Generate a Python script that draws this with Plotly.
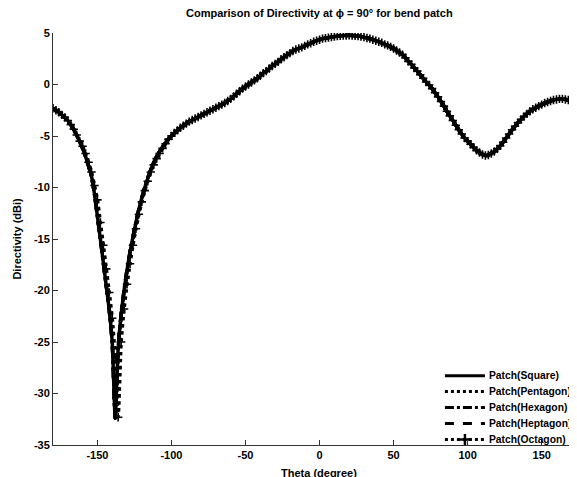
import plotly.graph_objects as go

theta = list(range(-180, 181, 2))

patch_square = [
    -2.3, -2.5, -2.7, -2.95, -3.2, -3.5, -3.9, -4.35, -4.9, -5.5,          # -180..-162
    -6.2, -7.0, -7.9, -8.9, -10.6, -12.8, -15.0, -17.3, -19.6, -21.9,      # -160..-142
    -25.0, -32.4, -25.6, -22.4, -20.0, -18.0, -16.3, -14.8, -13.4, -12.1,  # -140..-122
    -11.0, -10.0, -9.1, -8.3, -7.6, -7.0, -6.5, -6.05, -5.65, -5.3,        # -120..-102
    -5.0, -4.7, -4.45, -4.2, -4.0, -3.8, -3.6, -3.45, -3.3, -3.15,         # -100..-82
    -3.0, -2.85, -2.7, -2.55, -2.4, -2.25, -2.1, -1.95, -1.8, -1.6,        # -80..-62
    -1.4, -1.15, -0.9, -0.65, -0.4, -0.2, 0.0, 0.2, 0.4, 0.6,              # -60..-42
    0.85, 1.1, 1.3, 1.55, 1.8, 2.0, 2.2, 2.45, 2.65, 2.85,                 # -40..-22
    3.05, 3.25, 3.4, 3.5, 3.6, 3.75, 3.9, 4.0, 4.15, 4.25,                 # -20..-2
    4.35, 4.45, 4.5, 4.55, 4.6, 4.65, 4.7, 4.72, 4.75, 4.76,               # 0..18
    4.77, 4.76, 4.74, 4.7, 4.65, 4.6, 4.52, 4.45, 4.35, 4.25,              # 20..38
    4.15, 4.05, 3.9, 3.8, 3.65, 3.5, 3.3, 3.1, 2.9, 2.6,                   # 40..58
    2.25, 1.95, 1.6, 1.3, 0.95, 0.6, 0.25, -0.05, -0.4, -0.8,              # 60..78
    -1.2, -1.65, -2.1, -2.6, -3.05, -3.5, -3.95, -4.4, -4.8, -5.2,         # 80..98
    -5.5, -5.8, -6.1, -6.4, -6.6, -6.8, -6.9, -6.85, -6.7, -6.5,           # 100..118
    -6.25, -5.95, -5.6, -5.2, -4.8, -4.4, -4.05, -3.7, -3.4, -3.1,         # 120..138
    -2.85, -2.6, -2.4, -2.25, -2.1, -1.95, -1.8, -1.7, -1.6, -1.5,         # 140..158
    -1.45, -1.4, -1.4, -1.45, -1.5, -1.55, -1.65, -1.75, -1.9, -2.1,       # 160..178
    -2.3,                                                                  # 180
]

patch_pentagon = list(patch_square)
patch_hexagon = list(patch_square)
patch_heptagon = list(patch_square)

patch_octagon = [
    -2.3, -2.5, -2.7, -2.95, -3.2, -3.5, -3.9, -4.35, -4.9, -5.5,          # -180..-162
    -6.0, -6.7, -7.55, -8.5, -9.8, -11.2, -13.4, -15.6, -17.9, -20.2,      # -160..-142
    -22.7, -26.5, -32.3, -25.0, -21.8, -19.4, -17.4, -15.6, -14.0, -12.6,  # -140..-122
    -11.4, -10.3, -9.4, -8.5, -7.8, -7.2, -6.7, -6.2, -5.75, -5.3,         # -120..-102
    -5.0, -4.7, -4.45, -4.2, -4.0, -3.8, -3.6, -3.45, -3.3, -3.15,         # -100..-82
    -3.0, -2.85, -2.7, -2.55, -2.4, -2.25, -2.1, -1.95, -1.8, -1.6,        # -80..-62
    -1.4, -1.15, -0.9, -0.65, -0.4, -0.2, 0.0, 0.2, 0.4, 0.6,              # -60..-42
    0.85, 1.1, 1.3, 1.55, 1.8, 2.0, 2.2, 2.45, 2.65, 2.85,                 # -40..-22
    3.05, 3.25, 3.4, 3.5, 3.6, 3.75, 3.9, 4.0, 4.15, 4.25,                 # -20..-2
    4.35, 4.45, 4.5, 4.55, 4.6, 4.65, 4.7, 4.72, 4.75, 4.76,               # 0..18
    4.77, 4.76, 4.74, 4.7, 4.65, 4.6, 4.52, 4.45, 4.35, 4.25,              # 20..38
    4.15, 4.05, 3.9, 3.8, 3.65, 3.5, 3.3, 3.1, 2.9, 2.6,                   # 40..58
    2.25, 1.95, 1.6, 1.3, 0.95, 0.6, 0.25, -0.05, -0.4, -0.8,              # 60..78
    -1.2, -1.65, -2.1, -2.6, -3.05, -3.5, -3.95, -4.4, -4.8, -5.2,         # 80..98
    -5.5, -5.8, -6.1, -6.4, -6.6, -6.8, -6.9, -6.85, -6.7, -6.5,           # 100..118
    -6.25, -5.95, -5.6, -5.2, -4.8, -4.4, -4.05, -3.7, -3.4, -3.1,         # 120..138
    -2.85, -2.6, -2.4, -2.25, -2.1, -1.95, -1.8, -1.7, -1.6, -1.5,         # 140..158
    -1.45, -1.4, -1.4, -1.45, -1.5, -1.55, -1.65, -1.75, -1.9, -2.1,       # 160..178
    -2.3,                                                                  # 180
]

series_names = ["Patch(Square)", "Patch(Pentagon)", "Patch(Hexagon)",
                "Patch(Heptagon)", "Patch(Octagon)"]
series_values = [patch_square, patch_pentagon, patch_hexagon,
                 patch_heptagon, patch_octagon]
series_dash = ["solid", "dot", "dashdot", "dash", "dot"]
series_marker = [None, None, None, None, "cross-thin"]

x_ticks = [-150, -100, -50, 0, 50, 100, 150]
y_ticks = [-35, -30, -25, -20, -15, -10, -5, 0, 5]

# ---- layout geometry (page pixels of the reference; the page body adds an 8px offset)
OFF = 8
W, H = 577, 477

def fx(p):  # reference page px -> figure px
    return p - OFF

L = fx(53.3)
T = fx(32.7)
BOTTOM = fx(445.5)
B = H - BOTTOM
R = 0
plot_w = W - L - R
plot_h = BOTTOM - T
px_per_deg = 1.48
x_max = -180 + plot_w / px_per_deg

FONT = "Arial, Liberation Sans, Helvetica, sans-serif"
AX = "#333333"
LW = 3.5

fig = go.Figure()
for name, vals, dash, sym in zip(series_names, series_values, series_dash, series_marker):
    fig.add_trace(go.Scatter(
        x=theta, y=vals, name=name, showlegend=False,
        mode="lines+markers" if sym else "lines",
        line=dict(color="black", width=LW, dash=dash, shape="spline", smoothing=0.5),
        marker=dict(symbol=sym, size=6, color="black",
                    line=dict(color="black", width=1.6)) if sym else None,
    ))

# ---- hand-drawn legend on an overlay axis that uses figure pixels
leg_rows = [fx(v) for v in [376, 392, 408, 424, 440]]
leg_x0, leg_x1, leg_text_x = fx(445), fx(485), fx(487)
for name, dash, sym, yy in zip(series_names, series_dash, series_marker, leg_rows):
    fig.add_trace(go.Scatter(
        x=[leg_x0, leg_x1], y=[yy, yy], mode="lines", showlegend=False,
        xaxis="x2", yaxis="y2", hoverinfo="skip",
        line=dict(color="black", width=3, dash=dash),
    ))
    if sym:
        fig.add_trace(go.Scatter(
            x=[(leg_x0 + leg_x1) / 2], y=[yy], mode="markers", showlegend=False,
            xaxis="x2", yaxis="y2", hoverinfo="skip",
            marker=dict(symbol=sym, size=8, color="black",
                        line=dict(color="black", width=2.5)),
        ))
    fig.add_annotation(
        text=name, xref="x2", yref="y2", x=leg_text_x, y=yy,
        xanchor="left", yanchor="middle", showarrow=False,
        font=dict(family=FONT, size=10.3, color="black", weight="bold"),
    )

fig.update_layout(
    width=W, height=H,
    margin=dict(l=L, r=R, t=T, b=B, autoexpand=False),
    paper_bgcolor="white", plot_bgcolor="white",
    font=dict(family=FONT, size=11, color="black"),
    showlegend=False,
    xaxis=dict(
        range=[-180, x_max], tickvals=x_ticks, ticktext=[str(v) for v in x_ticks],
        ticks="inside", ticklen=5, tickcolor=AX, tickwidth=1,
        showline=True, linecolor=AX, linewidth=1, mirror=False,
        showgrid=False, zeroline=False,
        tickfont=dict(family=FONT, size=11, color="black", weight="bold"),
    ),
    yaxis=dict(
        range=[-35, 5], tickvals=y_ticks, ticktext=[str(v) for v in y_ticks],
        ticks="inside", ticklen=5, tickcolor=AX, tickwidth=1,
        showline=True, linecolor=AX, linewidth=1, mirror=False,
        showgrid=False, zeroline=False,
        tickfont=dict(family=FONT, size=11, color="black", weight="bold"),
    ),
    xaxis2=dict(overlaying="x", range=[L, L + plot_w], visible=False, fixedrange=True),
    yaxis2=dict(overlaying="y", range=[BOTTOM, T], visible=False, fixedrange=True),
)

def px_x(p):
    return (fx(p) - L) / plot_w

def px_y(p):
    return (BOTTOM - fx(p)) / plot_h

fig.add_annotation(
    text="Comparison of Directivity at \u03d5 = 90\u00b0 for bend patch",
    xref="paper", yref="paper", x=px_x(320), y=px_y(13),
    xanchor="center", yanchor="middle", showarrow=False,
    font=dict(family=FONT, size=11, color="black", weight="bold"),
)
fig.add_annotation(
    text="Theta (degree)",
    xref="paper", yref="paper", x=px_x(319), y=px_y(474),
    xanchor="center", yanchor="middle", showarrow=False,
    font=dict(family=FONT, size=11, color="black", weight="bold"),
)
fig.add_annotation(
    text="Directivity (dBi)",
    xref="paper", yref="paper", x=px_x(17), y=px_y(239),
    xanchor="center", yanchor="middle", showarrow=False, textangle=-90,
    font=dict(family=FONT, size=11, color="black", weight="bold"),
)

fig.write_html("out.html")
